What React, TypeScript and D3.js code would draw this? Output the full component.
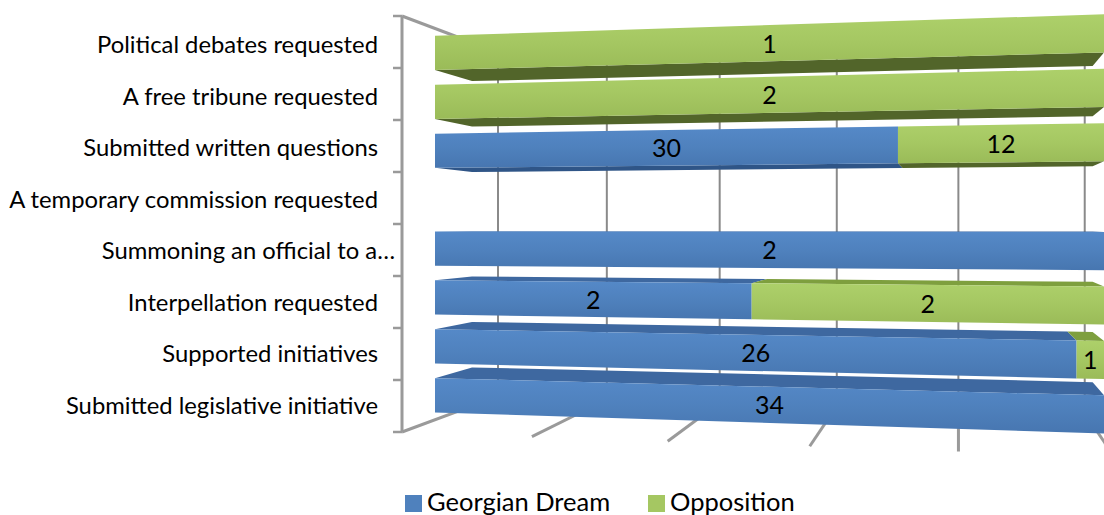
import React from 'react';
import * as d3 from 'd3';

// ---- data (bottom category first) ----
const categories = [
  'Submitted legislative initiative',
  'Supported initiatives',
  'Interpellation requested',
  'Summoning an official to a…',
  'A temporary commission requested',
  'Submitted written questions',
  'A free tribune requested',
  'Political debates requested',
];
const georgianDream = [34, 26, 2, 2, 0, 30, 0, 0];
const opposition = [0, 1, 2, 0, 0, 12, 2, 1];
const seriesNames = ['Georgian Dream', 'Opposition'];
const valueTicks = [0, 0.2, 0.4, 0.6, 0.8, 1];

// ---- camera (perspective projection) ----
const OX = 402, OY = 432;          // front-left-bottom corner on screen
const VX = -5500, VY = 226;        // vanishing point of the value axis
const ZX = 958, ZY = 226;          // vanishing point of depth
const LX = -0.1077;                // value-axis projective factor
const LY = 52.0;                   // pixels per category unit (vertical)
const T_FRONT = 0.0631, T_BACK = 0.144, T_WALL = 0.2087;

function project(X: number, Y: number, T: number): [number, number] {
  const hx = LX * X * VX + T * ZX + OX;
  const hy = LX * X * VY - LY * Y + T * ZY + OY;
  const hw = LX * X + T + 1;
  return [hx / hw, hy / hw];
}
const pts = (arr: [number, number][]) => arr.map(p => `${p[0].toFixed(2)},${p[1].toFixed(2)}`).join(' ');

const FONT = 'Lato, "Open Sans", sans-serif';

const colors = {
  gd: { front0: '#5589C8', front1: '#4F81BD', front2: '#4776B0', top: '#3E68A0', bottom: '#2F5587' },
  opp: { front0: '#ADD06A', front1: '#A5C762', front2: '#9ABB58', top: '#7E9F3E', bottom: '#52652A' },
};

export default function App() {
  const nCat = categories.length;
  const x = d3.scaleLinear().domain([0, 1]).range([0, 1]);
  const yBand = d3.scaleBand<string>().domain(categories).range([0, nCat]).paddingInner(0.3).paddingOuter(0.15);
  const labelY = d3.scalePoint<string>().domain(categories).range([414, 53]);

  const rows = categories.map((c, i) => ({ cat: c, gd: georgianDream[i], opp: opposition[i] }));
  const stack = d3.stack<any>().keys(['gd', 'opp']).offset(d3.stackOffsetExpand)(rows);

  const wallLines = valueTicks.map(v => ({ a: project(x(v), 0, T_WALL), b: project(x(v), nCat, T_WALL) }));
  const floorLines = valueTicks.map(v => ({ a: project(x(v), 0, 0), b: project(x(v), 0, T_WALL) }));
  const axisA = project(0, 0, 0), axisB = project(0, nCat, 0);
  const sideTopB = project(0, nCat, T_WALL);
  const tickYs = d3.range(nCat + 1).map(k => project(0, k, 0));

  const faces: any[] = [];
  const labels: any[] = [];
  stack.forEach((series, k) => {
    const key = k === 0 ? 'gd' : 'opp';
    const col = (colors as any)[key];
    const vals = k === 0 ? georgianDream : opposition;
    series.forEach((d, i) => {
      const x0 = x(d[0]), x1 = x(d[1]);
      if (!(x1 - x0 > 0)) return;
      const cat = categories[i];
      const y0 = yBand(cat)!, y1 = y0 + yBand.bandwidth();
      const tf = project(x0, y1, T_FRONT), tb = project(x0, y1, T_BACK);
      if (tb[1] < tf[1]) {
        faces.push(<polygon key={`t${k}${i}`} points={pts([project(x0, y1, T_FRONT), project(x1, y1, T_FRONT), project(x1, y1, T_BACK), project(x0, y1, T_BACK)])} fill={col.top} />);
      }
      const bf = project(x0, y0, T_FRONT), bb = project(x0, y0, T_BACK);
      if (bb[1] > bf[1]) {
        faces.push(<polygon key={`b${k}${i}`} points={pts([project(x0, y0, T_FRONT), project(x1, y0, T_FRONT), project(x1, y0, T_BACK), project(x0, y0, T_BACK)])} fill={col.bottom} />);
      }
      faces.push(<polygon key={`f${k}${i}`} points={pts([project(x0, y0, T_FRONT), project(x1, y0, T_FRONT), project(x1, y1, T_FRONT), project(x0, y1, T_FRONT)])} fill={`url(#grad-${key})`} />);
      const yc = y0 + yBand.bandwidth() / 2;
      const pl = project(x0, yc, T_FRONT), pr = project(x1, yc, T_FRONT);
      labels.push(
        <text key={`l${k}${i}`} x={(pl[0] + pr[0]) / 2} y={(pl[1] + pr[1]) / 2 + 9.5} textAnchor="middle" fontSize={25} fontFamily={FONT} fill="#000">{vals[i]}</text>
      );
    });
  });

  return (
    <svg width={1104} height={515} style={{ position: 'absolute', left: 0, top: 0, background: '#fff' }}>
      <defs>
        {(['gd', 'opp'] as const).map(key => (
          <linearGradient key={key} id={`grad-${key}`} x1="0" y1="0" x2="0" y2="1">
            <stop offset="0" stopColor={colors[key].front0} />
            <stop offset="0.5" stopColor={colors[key].front1} />
            <stop offset="1" stopColor={colors[key].front2} />
          </linearGradient>
        ))}
      </defs>
      <rect width={1104} height={515} fill="#fff" />
      {wallLines.map((l, i) => (
        <line key={`w${i}`} x1={l.a[0]} y1={l.a[1]} x2={l.b[0]} y2={l.b[1]} stroke="#8A8A8A" strokeWidth={2} />
      ))}
      {floorLines.map((l, i) => (
        <line key={`fl${i}`} x1={l.a[0]} y1={l.a[1]} x2={l.b[0]} y2={l.b[1]} stroke="#9A9A9A" strokeWidth={3} />
      ))}
      <line x1={axisB[0]} y1={axisB[1]} x2={sideTopB[0]} y2={sideTopB[1]} stroke="#9A9A9A" strokeWidth={3} />
      <line x1={axisA[0]} y1={axisA[1]} x2={axisB[0]} y2={axisB[1]} stroke="#9A9A9A" strokeWidth={3} />
      {tickYs.map((p, i) => (
        <line key={`tk${i}`} x1={p[0] - 9} y1={p[1]} x2={p[0]} y2={p[1]} stroke="#9A9A9A" strokeWidth={2.5} />
      ))}
      {faces}
      {labels}
      {categories.map((c, i) => (
        <text key={`c${i}`} x={c.endsWith('…') ? 395 : 378} y={labelY(c)} textAnchor="end" fontSize={23.8} fontFamily={FONT} fill="#000">{c}</text>
      ))}
      <g fontFamily={FONT} fontSize={25.5}>
        <rect x={405} y={495} width={17} height={17} fill={colors.gd.front1} />
        <text x={427} y={511} fill="#000">{seriesNames[0]}</text>
        <rect x={648} y={495} width={17} height={17} fill={colors.opp.front1} />
        <text x={670} y={511} fill="#000">{seriesNames[1]}</text>
      </g>
    </svg>
  );
}
